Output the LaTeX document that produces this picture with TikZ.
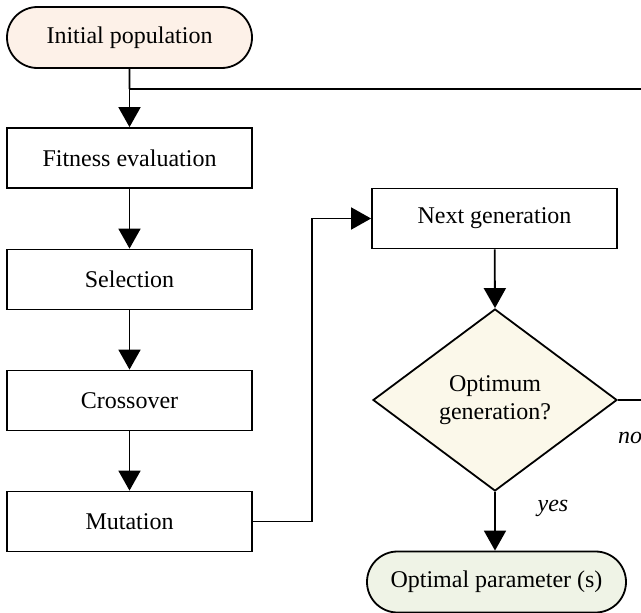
\documentclass[tikz,border=0pt]{standalone}
\usepackage{fontspec}
\setmainfont{Liberation Serif}
\usetikzlibrary{shapes.geometric,shapes.misc,arrows.meta}
\definecolor{startfill}{RGB}{253,241,232}
\definecolor{decfill}{RGB}{251,248,234}
\definecolor{endfill}{RGB}{239,243,230}
\tikzset{
  every node/.style={font=\fontsize{24}{28}\selectfont},
  procbox/.style={draw, line width=1.8pt, minimum width=245pt, minimum height=60pt, inner sep=0pt},
  termbox/.style={draw, line width=1.8pt, rounded rectangle, minimum height=61pt, inner sep=0pt},
  decbox/.style={draw, line width=1.8pt, diamond, fill=decfill, minimum width=244pt, minimum height=182pt, inner sep=0pt, align=center},
  flow/.style={line width=1.8pt, -{Triangle[width=22pt,length=20pt]}},
  plain/.style={line width=1.8pt},
  answer/.style={font=\fontsize{24}{28}\selectfont\itshape}
}
\begin{document}
\begin{tikzpicture}[x=1pt,y=-1pt]
  \useasboundingbox (0,0) rectangle (641,613);

  % main chain of operators
  \node[termbox, fill=startfill, minimum width=245pt] (init) at (129.5,37.5) {Initial population};
  \node[procbox] (fit) at (129.5,158) {Fitness evaluation};
  \node[procbox] (sel) at (129.5,279.5) {Selection};
  \node[procbox] (cross) at (129.5,400.5) {Crossover};
  \node[procbox] (mut) at (129.5,521.5) {Mutation};

  % right column
  \node[procbox] (next) at (494.5,218.5) {Next generation};
  \node[decbox] (opt) at (495,400) {Optimum\\generation?};
  \node[termbox, fill=endfill, minimum width=259pt] (final) at (496.5,582) {Optimal parameter (s)};

  % helper points of the loop
  \coordinate (split) at (129.5,89);
  \coordinate (topout) at (641,89);
  \coordinate (noout) at (641,400);
  \coordinate (bend) at (312,521.5);

  \draw[plain] (init) -- (split);
  \draw[flow] (split) -- (fit);
  \draw[plain] (split) -- (topout);
  \draw[flow] (fit) -- (sel);
  \draw[flow] (sel) -- (cross);
  \draw[flow] (cross) -- (mut);
  \draw[flow] (mut.east) -- (bend) |- (next.west);
  \draw[flow] (next) -- (opt.north);
  \draw[plain] (opt.east) -- (noout);
  \draw[flow] (opt.south) -- (final.north -| opt.south);

  \node[answer] (nolab) at (630,438) {no};
  \node[answer] (yeslab) at (553,508) {yes};
\end{tikzpicture}
\end{document}
